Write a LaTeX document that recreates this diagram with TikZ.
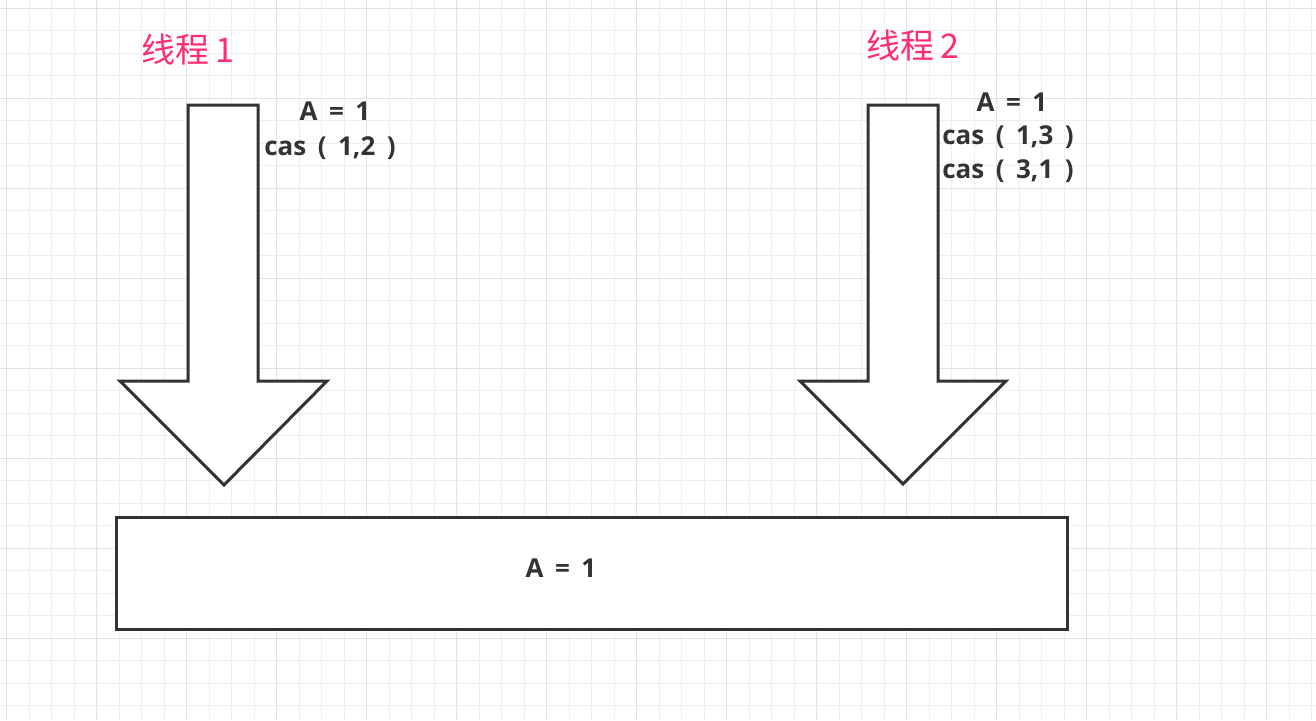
\documentclass[tikz,border=0pt]{standalone}
\usepackage{fontspec}
\setmainfont{Open Sans}
\newfontfamily\valfont[WordSpace=1.7]{Open Sans}
\newfontfamily\cjk{Noto Sans CJK SC}
\definecolor{ink}{HTML}{333333}
\definecolor{pinklabel}{RGB}{255,45,120}
\definecolor{gridminor}{HTML}{EEEEEE}
\definecolor{gridmajor}{HTML}{E2E2E2}
\tikzset{
  shape line/.style={draw=ink, line width=3pt, fill=white, line join=miter},
  valtext/.style={text=ink, font=\valfont\fontsize{26}{30}\selectfont\bfseries, inner sep=0pt, anchor=center},
  threadlabel/.style={text=pinklabel, font=\cjk\fontsize{34}{38}\selectfont, inner sep=0pt, anchor=center},
}
\begin{document}
\begin{tikzpicture}[x=1pt,y=-1pt]
\useasboundingbox (0,0) rectangle (1316,720);
\fill[white] (0,0) rectangle (1316,720);
% grid
\foreach \i in {0,...,58} {
  \pgfmathsetmacro\gx{6.7+22.5*\i}
  \pgfmathtruncatemacro\m{mod(\i,4)}
  \ifnum\m=0
    \draw[gridmajor, line width=1.2pt] (\gx,0) -- (\gx,720);
  \else
    \draw[gridminor, line width=1pt] (\gx,0) -- (\gx,720);
  \fi
}
\foreach \j in {0,...,31} {
  \pgfmathsetmacro\gy{8.3+22.5*\j}
  \pgfmathtruncatemacro\m{mod(\j,4)}
  \ifnum\m=0
    \draw[gridmajor, line width=1.2pt] (0,\gy) -- (1316,\gy);
  \else
    \draw[gridminor, line width=1pt] (0,\gy) -- (1316,\gy);
  \fi
}
% arrows
\draw[shape line] (188,105) -- (258,105) -- (258,381) -- (327,381) -- (224,485) -- (120,381) -- (188,381) -- cycle;
\draw[shape line] (868,105) -- (938,105) -- (938,381) -- (1006,381) -- (903,484) -- (800,381) -- (868,381) -- cycle;
% box
\node[shape line, rectangle, minimum width=951pt, minimum height=112pt, inner sep=0pt, anchor=north west] (mem) at (115,516) {};
\node[valtext] (memval) at (561,568) {A = 1};
% labels
\node[threadlabel] (t1) at (188,50) {线程\hspace{6pt}1};
\node[threadlabel] (t2) at (913,46) {线程\hspace{6pt}2};
\node[valtext] (a1) at (335,111) {A = 1};
\node[valtext] (c1) at (330,148) {cas ( 1,2 )};
\node[valtext] (a2) at (1012,102) {A = 1};
\node[valtext] (c2) at (1008,137) {cas ( 1,3 )};
\node[valtext] (c3) at (1008,171) {cas ( 3,1 )};
\end{tikzpicture}
\end{document}
